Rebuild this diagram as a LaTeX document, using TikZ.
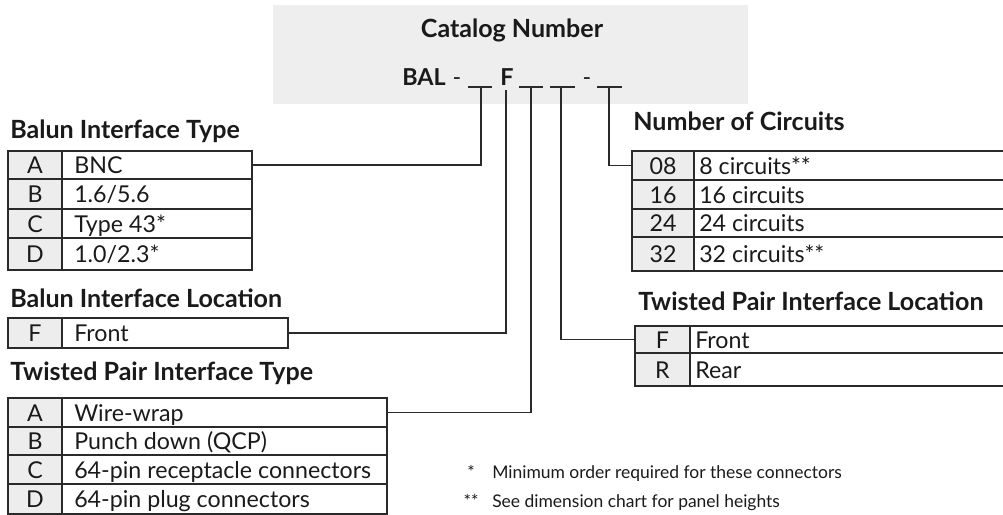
\documentclass[tikz,border=0pt]{standalone}
\usepackage{fontspec}
\setmainfont{Lato}
\usetikzlibrary{calc}
\definecolor{ln}{HTML}{2A2A2A}
\definecolor{keyfill}{HTML}{EDEDED}
\definecolor{catfill}{HTML}{EEEEEE}
\definecolor{txt}{HTML}{1A1A1A}
\newcommand\pxu{0.75pt}
\tikzset{
  cellline/.style={draw=ln, line width=1pt},
  bodytxt/.style={font=\fontsize{17.4}{20}\selectfont, text=txt, inner sep=0pt},
  notetxt/.style={font=\fontsize{13.1}{16}\selectfont, text=txt, inner sep=0pt},
  ttl/.style={font=\bfseries\fontsize{18.8}{22}\selectfont, text=txt, inner sep=0pt, anchor=base west},
  codetxt/.style={font=\bfseries\fontsize{17.5}{20}\selectfont, text=txt, inner sep=0pt, anchor=base west},
  conn/.style={draw=ln, line width=1pt},
}
\newcommand\trow[9]{%
  \draw[cellline, fill=keyfill] (#2,#5) rectangle (#3,#6);
  \draw[cellline] (#3,#5) rectangle (#4,#6);
  \node[bodytxt, anchor=base] (#1k) at ({(#2+#3)/2},{(#5+#6)/2+8.5}) {#7};
  \node[bodytxt, anchor=base west] (#1d) at ({#3+#9},{(#5+#6)/2+8.5}) {#8};
  \coordinate (#1e) at (#4,{(#5+#6)/2});
  \coordinate (#1w) at (#2,{(#5+#6)/2});
}
\begin{document}
\begin{tikzpicture}[x=0.75pt,y=-0.75pt]
\path[use as bounding box] (0,0) rectangle (1003,514);
\clip (0,0) rectangle (1003,514);
% catalog header
\node[fill=catfill, minimum width=475*\pxu, minimum height=99*\pxu, anchor=north west, inner sep=0pt] (cat) at (273,5) {};
\node[ttl, anchor=base] (catttl) at (512,37) {Catalog Number};
\node[codetxt] (bal) at (402,85) {BAL};
\node[bodytxt, anchor=base] (dash1) at (457,85) {-};
\node[codetxt] (fcode) at (500,85) {F};
\node[bodytxt, anchor=base] (dash2) at (587,85) {-};
\coordinate (u1a) at (468,87); \coordinate (u1b) at (492,87);
\coordinate (u2a) at (519,87); \coordinate (u2b) at (543,87);
\coordinate (u3a) at (550,87); \coordinate (u3b) at (575,87);
\coordinate (u4a) at (597,87); \coordinate (u4b) at (622,87);
\draw[conn] (u1a) -- (u1b);
\draw[conn] (u2a) -- (u2b);
\draw[conn] (u3a) -- (u3b);
\draw[conn] (u4a) -- (u4b);
\coordinate (c1) at (481,87);
\coordinate (c2) at (506,90);
\coordinate (c3) at (531,87);
\coordinate (c4) at (561,87);
\coordinate (c5) at (609,87);
% titles
\node[ttl] (t1) at (10,138) {Balun Interface Type};
\node[ttl] (t2) at (10,307) {Balun Interface Location};
\node[ttl] (t3) at (10,380) {Twisted Pair Interface Type};
\node[ttl] (t4) at (633,130) {Number of Circuits};
\node[ttl] (t5) at (638,310) {Twisted Pair Interface Location};
% tables
\trow{bitA}{8}{62}{252}{151}{179}{A}{BNC}{12}
\trow{bitB}{8}{62}{252}{179}{209}{B}{1.6/5.6}{12}
\trow{bitC}{8}{62}{252}{209}{238}{C}{Type 43*}{12}
\trow{bitD}{8}{62}{252}{238}{270}{D}{1.0/2.3*}{12}
\trow{bilF}{8}{62}{288}{318}{348}{F}{Front}{12}
\trow{tptA}{8}{62}{387}{398}{427}{A}{Wire-wrap}{12}
\trow{tptB}{8}{62}{387}{427}{455}{B}{Punch down (QCP)}{12}
\trow{tptC}{8}{62}{387}{455}{484}{C}{64-pin receptacle connectors}{12}
\trow{tptD}{8}{62}{387}{484}{514}{D}{64-pin plug connectors}{12}
\trow{nocA}{632}{694}{1010}{151}{180}{08}{8 circuits**}{5}
\trow{nocB}{632}{694}{1010}{180}{209}{16}{16 circuits}{5}
\trow{nocC}{632}{694}{1010}{209}{237}{24}{24 circuits}{5}
\trow{nocD}{632}{694}{1010}{237}{271}{32}{32 circuits**}{5}
\trow{tplF}{635}{690}{1010}{326}{353}{F}{Front}{5}
\trow{tplR}{635}{690}{1010}{353}{386}{R}{Rear}{5}
% connectors
\draw[conn] (bitAe) -- (bitAe -| c1) -- (c1);
\draw[conn] (bilFe) -- (bilFe -| c2) -- (c2);
\draw[conn] (tptAe) -- (tptAe -| c3) -- (c3);
\draw[conn] (c4) -- (c4 |- tplFw) -- (tplFw);
\draw[conn] (c5) -- (c5 |- nocAw) -- (nocAw);
% footnotes
\node[notetxt, anchor=base] (fn1s) at (471,478) {*};
\node[notetxt, anchor=base west] (fn1) at (492,478) {Minimum order required for these connectors};
\node[notetxt, anchor=base] (fn2s) at (471,507) {**};
\node[notetxt, anchor=base west] (fn2) at (492,507) {See dimension chart for panel heights};
\end{tikzpicture}
\end{document}
